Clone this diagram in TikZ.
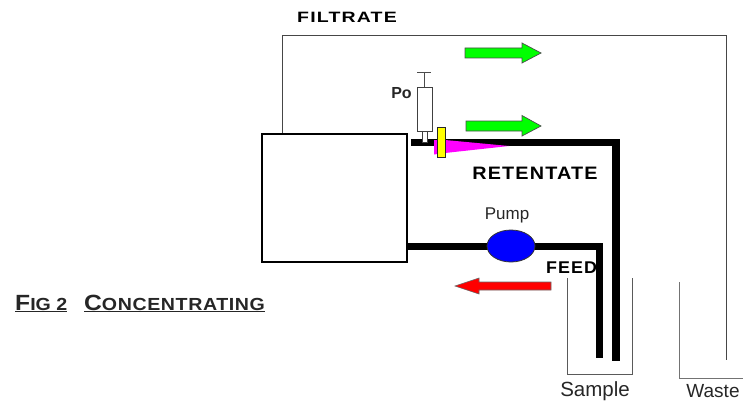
\documentclass[tikz,border=0pt]{standalone}
\usepackage{fontspec}
\setmainfont{Liberation Sans}
\newfontfamily\widefont[LetterSpace=6]{Liberation Sans}
\newfontfamily\capfont[LetterSpace=3]{Liberation Sans}
\usetikzlibrary{shapes.geometric,arrows.meta}
\definecolor{gline}{RGB}{70,70,70}
\definecolor{beaker}{RGB}{90,90,90}
\definecolor{greenfill}{RGB}{0,255,0}
\definecolor{puremag}{RGB}{255,0,255}
\definecolor{pureblue}{RGB}{0,0,255}
\definecolor{purered}{RGB}{255,0,0}
\definecolor{pureyellow}{RGB}{255,255,0}
\tikzset{
  thintube/.style={draw=gline,line width=1pt},
  thicktube/.style={draw=black,line width=7.5pt,line join=miter},
  beakerline/.style={draw=beaker,line width=1pt},
  lab/.style={inner sep=0pt,anchor=center},
  boldlab/.style={lab,font=\widefont\bfseries\fontsize{17}{20}\selectfont},
  plainlab/.style={lab,text=black!85,font=\fontsize{17}{20}\selectfont},
  block/.style={draw=black,line width=2.4pt,fill=white,inner sep=0pt},
  partline/.style={draw=black!70,line width=0.9pt},
}
\begin{document}
\begin{tikzpicture}[x=1pt,y=-1pt]
\useasboundingbox (0,0) rectangle (743,401);
% filtrate line
\coordinate (fa) at (282,134);
\coordinate (fb) at (282,36);
\coordinate (fc) at (726,36);
\coordinate (fd) at (726,360);
\draw[thintube] (fa) -- (fb) -- (fc) -- (fd);
% beakers
\coordinate (s1) at (567,278);
\coordinate (s2) at (567,374);
\coordinate (s3) at (632,374);
\coordinate (s4) at (632,278);
\draw[beakerline] (s1) -- (s2) -- (s3) -- (s4);
\coordinate (w1) at (679,282);
\coordinate (w2) at (679,378);
\coordinate (w3) at (743,378);
\coordinate (w4) at (743,282);
\draw[beakerline,draw=black!55] (w1) -- (w2) -- (w3) -- (w4);
% retentate tube
\coordinate (ra) at (411,142.5);
\coordinate (rb) at (616,142.5);
\coordinate (rc) at (616,361);
\draw[thicktube] (ra) -- (rb) -- (rc);
% feed tube
\coordinate (pa) at (407,246.5);
\coordinate (pb) at (599.5,246.5);
\coordinate (pc) at (599.5,358);
\draw[thicktube] (pa) -- (pb) -- (pc);
% module
\node[block,minimum width=145pt,minimum height=128pt] (module) at (334.5,198) {};
% pump
\node[ellipse,draw=black!80,line width=.8pt,fill=pureblue,minimum width=48pt,minimum height=32pt,inner sep=0pt] (pump) at (511,246) {};
% syringe
\node[draw=black!75,line width=.8pt,fill=white,minimum width=5pt,minimum height=11pt,inner sep=0pt] (neck) at (424.5,136.5) {};
\node[draw=black!75,line width=.9pt,fill=white,minimum width=15pt,minimum height=44pt,inner sep=0pt] (barrel) at (424.5,109) {};
\coordinate (ptop) at (424.5,72);
\coordinate (pl) at (417,72);
\coordinate (pr) at (431,72);
\draw[partline] (barrel.north) -- (ptop);
\draw[partline] (pl) -- (pr);
% magenta restriction
\fill[puremag] (434,140) -- (445,140) -- (509,146) -- (445,153) -- (434,154.5) -- cycle;
% valve
\node[draw=black!85,line width=.8pt,fill=pureyellow,minimum width=8pt,minimum height=30pt,inner sep=0pt] (valve) at (441,142) {};
% arrows
\fill[greenfill,draw=black!70,line width=.7pt] (465,48) -- (522,48) -- (522,43) -- (541,53) -- (522,63) -- (522,58) -- (465,58) -- cycle;
\fill[greenfill,draw=black!70,line width=.7pt] (466,121) -- (522,121) -- (522,115.5) -- (541,126) -- (522,136) -- (522,131) -- (466,131) -- cycle;
\fill[purered,draw=black!60,line width=.6pt] (551,282) -- (479,282) -- (479,278) -- (455,286) -- (479,294) -- (479,290) -- (551,290) -- cycle;
% labels
\node[lab] (filtrate) at (347,17) {\scalebox{1.3}[1]{\widefont\bfseries\fontsize{15}{18}\selectfont FILTRATE}};
\node[lab] (retentate) at (535,173) {\scalebox{1.1}[1]{\widefont\bfseries\fontsize{18}{20}\selectfont RETENTATE}};
\node[boldlab] (feed) at (571.5,268) {\scalebox{1.05}[1]{FEED}};
\node[lab,font=\bfseries\fontsize{16}{18}\selectfont,text=black!85] (po) at (401.5,93.5) {Po};
\node[plainlab] (pumplab) at (507,215) {Pump};
\node[plainlab,font=\fontsize{20.5}{24}\selectfont] (sample) at (595,391) {Sample};
\node[plainlab,font=\fontsize{19}{24}\selectfont] (waste) at (713,391) {Waste};
\node[lab,anchor=base west,text=black!85] (fig) at (15,310)
  {\scalebox{1.12}[1]{\underline{\bfseries\fontsize{22}{24}\selectfont F\fontsize{17.5}{20}\selectfont IG 2}}};
\node[lab,anchor=base west,text=black!85] (conc) at (84,310)
  {\scalebox{1.12}[1]{\underline{\capfont\bfseries\fontsize{22}{24}\selectfont C\fontsize{17.5}{20}\selectfont ONCENTRATING}}};
\end{tikzpicture}
\end{document}
